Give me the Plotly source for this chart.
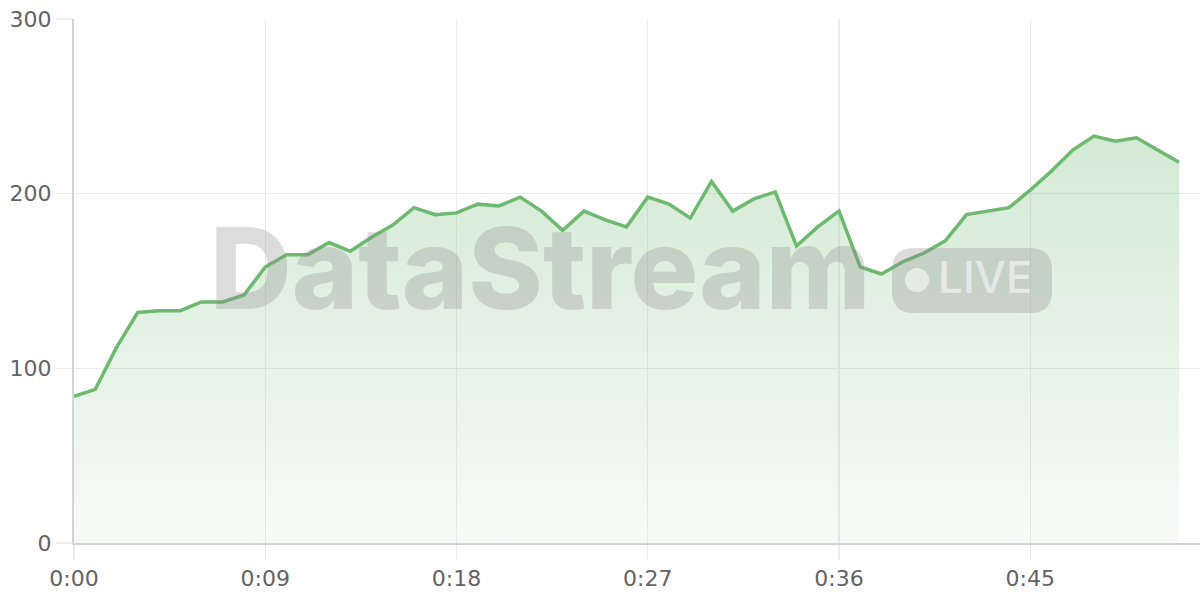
import plotly.graph_objects as go

x_values = list(range(53))
y_values = [84, 88, 112, 132, 133, 133, 138, 138, 142, 158,
            165, 165, 172, 167, 175, 182, 192, 188, 189, 194,
            193, 198, 190, 179, 190, 185, 181, 198, 194, 186,
            207, 190, 197, 201, 170, 181, 190, 158, 154, 161,
            166, 173, 188, 190, 192, 202, 213, 225, 233, 230,
            232, 225, 218]
x_tick_vals = [0, 9, 18, 27, 36, 45]
x_tick_text = ["0:00", "0:09", "0:18", "0:27", "0:36", "0:45"]
y_tick_vals = [0, 100, 200, 300]

GREEN = "rgb(110,184,112)"
GRID = "#ebebeb"
AXIS = "#d2d4d2"
FONT = "DejaVu Sans"

W, H = 1200, 600
# plot area in pixels
PL, PR, PT, PB = 74, 1200, 19, 543
PW, PH = PR - PL, PB - PT


def px(xw):
    return (xw - PL) / PW


def py(yw):
    return (PB - yw) / PH


def rounded_rect(x0, y0, x1, y1, r):
    pts = [
        f"M {px(x0 + r)},{py(y0)}",
        f"L {px(x1 - r)},{py(y0)}",
        f"Q {px(x1)},{py(y0)} {px(x1)},{py(y0 + r)}",
        f"L {px(x1)},{py(y1 - r)}",
        f"Q {px(x1)},{py(y1)} {px(x1 - r)},{py(y1)}",
        f"L {px(x0 + r)},{py(y1)}",
        f"Q {px(x0)},{py(y1)} {px(x0)},{py(y1 - r)}",
        f"L {px(x0)},{py(y0 + r)}",
        f"Q {px(x0)},{py(y0)} {px(x0 + r)},{py(y0)}",
        "Z",
    ]
    return " ".join(pts)


fig = go.Figure()
fig.add_trace(go.Scatter(
    x=x_values, y=y_values, mode="lines",
    line=dict(color=GREEN, width=3.5),
    fill="tozeroy",
    fillgradient=dict(
        type="vertical",
        colorscale=[[0, "rgba(110,184,112,0.06)"], [1, "rgba(110,184,112,0.30)"]],
    ),
    hoverinfo="skip",
))

fig.update_layout(
    width=W, height=H,
    margin=dict(l=PL, r=W - PR, t=PT, b=H - PB, autoexpand=False),
    plot_bgcolor="white", paper_bgcolor="white",
    showlegend=False,
    font=dict(family=FONT, color="#636363", size=22),
    xaxis=dict(
        range=[0, PW / ((1179 - 74) / 52)],
        tickvals=x_tick_vals, ticktext=x_tick_text,
        showgrid=True, gridcolor=GRID, gridwidth=1.3,
        showline=True, linecolor=AXIS, linewidth=2,
        ticks="outside", ticklen=15, tickcolor=GRID, tickwidth=1.3,
        zeroline=False, fixedrange=True, automargin=False,
    ),
    yaxis=dict(
        range=[0, 300],
        tickvals=y_tick_vals,
        showgrid=True, gridcolor=GRID, gridwidth=1.3,
        showline=True, linecolor=AXIS, linewidth=2,
        ticks="outside", ticklen=16, tickcolor=GRID, tickwidth=1.3,
        zeroline=False, fixedrange=True, automargin=False,
    ),
    shapes=[
        dict(type="path", xref="paper", yref="paper",
             path=rounded_rect(892, 248, 1052, 313, 22),
             fillcolor="rgba(140,140,140,0.30)", line=dict(width=0), layer="above"),
        dict(type="circle", xref="paper", yref="paper",
             x0=px(905), x1=px(929), y0=py(292), y1=py(268),
             fillcolor="rgba(255,255,255,0.55)", line=dict(width=0), layer="above"),
    ],
    annotations=[
        dict(text="DataStream", xref="paper", yref="paper",
             x=px(540), y=py(268), xanchor="center", yanchor="middle",
             showarrow=False,
             font=dict(family="Inter", size=113, color="rgba(140,140,140,0.30)", weight=800)),
        dict(text="LIVE", xref="paper", yref="paper",
             x=px(985), y=py(277), xanchor="center", yanchor="middle",
             showarrow=False,
             font=dict(family="Inter", size=44, color="rgba(255,255,255,0.55)", weight=500)),
    ],
)

fig.write_html(
    "out.html",
    config={"displayModeBar": False, "staticPlot": True},
    post_script="document.body.style.margin='0';document.body.style.padding='0';document.body.style.overflow='hidden';",
)
